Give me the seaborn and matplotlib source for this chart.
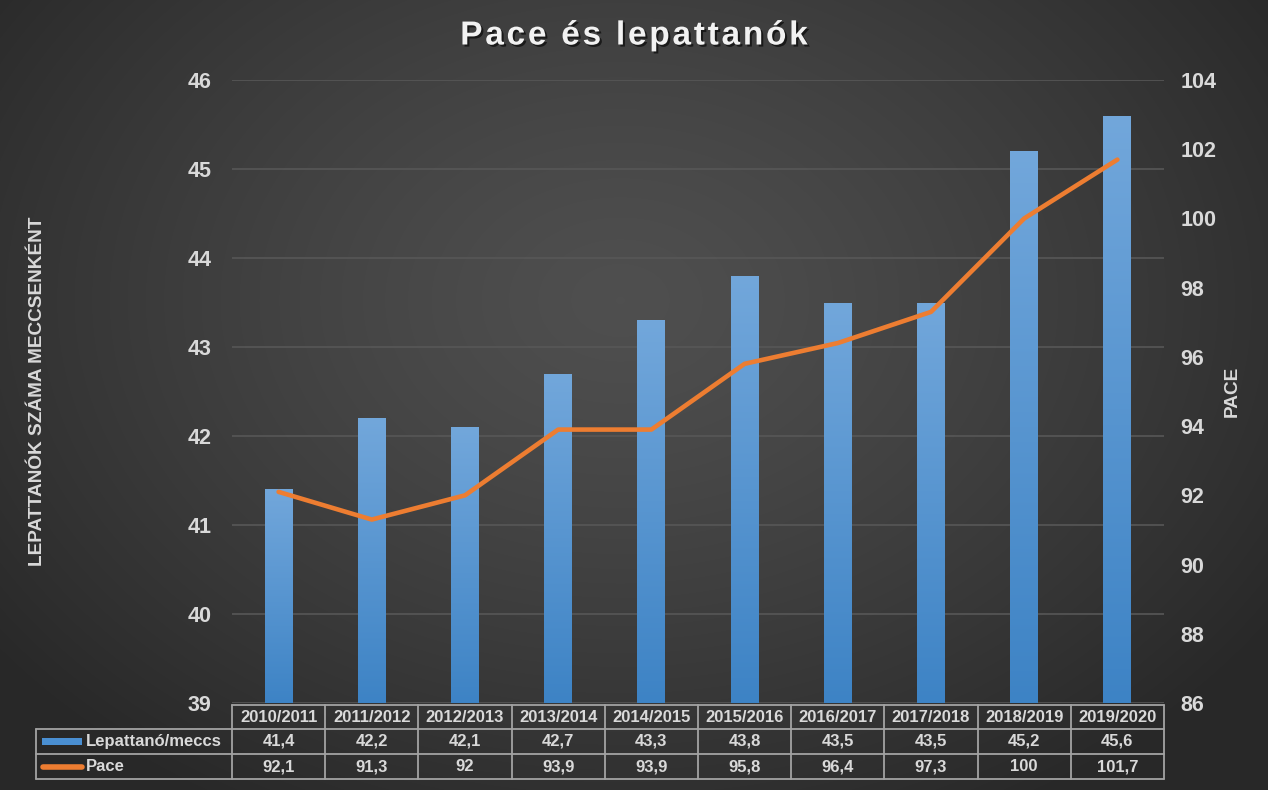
import numpy as np
import pandas as pd
import matplotlib
matplotlib.use("Agg")
import matplotlib.pyplot as plt
import seaborn as sns
from matplotlib.transforms import blended_transform_factory
from matplotlib.lines import Line2D
from matplotlib.patches import Rectangle
import matplotlib.patheffects as pe
from matplotlib.colors import LinearSegmentedColormap

# ---------------- data ----------------
seasons = ["2010/2011", "2011/2012", "2012/2013", "2013/2014", "2014/2015",
           "2015/2016", "2016/2017", "2017/2018", "2018/2019", "2019/2020"]
rebounds = [41.4, 42.2, 42.1, 42.7, 43.3, 43.8, 43.5, 43.5, 45.2, 45.6]
pace = [92.1, 91.3, 92.0, 93.9, 93.9, 95.8, 96.4, 97.3, 100.0, 101.7]
rebound_labels = ["41,4", "42,2", "42,1", "42,7", "43,3", "43,8", "43,5", "43,5", "45,2", "45,6"]
pace_labels = ["92,1", "91,3", "92", "93,9", "93,9", "95,8", "96,4", "97,3", "100", "101,7"]
left_ticks = list(range(39, 47))
right_ticks = list(range(86, 105, 2))
series_names = ["Lepattanó/meccs", "Pace"]
title = "Pace és lepattanók"
left_label = "LEPATTANÓK SZÁMA MECCSENKÉNT"
right_label = "PACE"

df = pd.DataFrame({"season": seasons, "rebounds": rebounds, "pace": pace})

# ---------------- style ----------------
sns.set_theme(style="dark")
plt.rcParams['font.family'] = ['Liberation Sans', 'DejaVu Sans']
plt.rcParams['font.weight'] = 'bold'
TXT = "#d9d9d9"
BLUE_TOP = "#72a7db"
BLUE_BOT = "#3d83c5"
ORANGE = "#ed7d31"
GRID = "#575757"
BORDER = "#a3a3a3"

W, H = 1268, 790
fig = plt.figure(figsize=(W / 100, H / 100), dpi=100)

# background radial gradient
bg = fig.add_axes([0, 0, 1, 1], zorder=-10)
yy, xx = np.mgrid[0:H, 0:W]
r = np.sqrt(((xx - 620) / 780.0) ** 2 + ((yy - 300) / 580.0) ** 2)
r = np.clip(r, 0, 1)
c0, c1 = 0.31, 0.16
val = c0 + (c1 - c0) * r ** 1.3
bg.imshow(np.dstack([val, val, val]), extent=[0, 1, 0, 1], aspect='auto', origin='upper')
bg.set_axis_off()

# main axes
L, R, T, B = 232, 1164, 80, 703
ax = fig.add_axes([L / W, 1 - B / H, (R - L) / W, (B - T) / H])
ax.set_facecolor("none")

sns.barplot(data=df, x="season", y="rebounds", order=seasons, ax=ax,
            width=0.3, color=BLUE_BOT, saturation=1, linewidth=0, edgecolor='none', zorder=3)
ax.set_ylim(39, 46)
ax.set_xlim(-0.5, len(seasons) - 0.5)

# gradient fill for bars
cmap = LinearSegmentedColormap.from_list("bl", [BLUE_BOT, BLUE_TOP])
grad = np.linspace(0, 1, 256).reshape(-1, 1)
for p in list(ax.patches):
    x0 = p.get_x()
    x1 = x0 + p.get_width()
    top = p.get_y() + p.get_height()
    im = ax.imshow(grad, extent=[x0, x1, 39, top], origin='lower', aspect='auto',
                   cmap=cmap, zorder=4)
    im.set_clip_path(p)
ax.set_ylim(39, 46)
ax.set_xlim(-0.5, len(seasons) - 0.5)

ax.set_yticks(left_ticks)
ax.set_yticklabels([str(t) for t in left_ticks])
ax.set_xticks(range(len(seasons)))
ax.set_xticklabels([])
ax.tick_params(axis='y', length=0, pad=15, labelsize=15.5, labelcolor=TXT)
ax.tick_params(axis='x', length=0)
for lab in ax.get_yticklabels():
    lab.set_fontweight('bold')
ax.set_xlabel("")
ax.set_ylabel("")
ax.grid(axis='y', color=GRID, lw=1.2, zorder=0)
ax.grid(axis='x', visible=False)
for s in ax.spines.values():
    s.set_visible(False)

ax2 = ax.twinx()
ax2.set_facecolor("none")
sns.lineplot(x=np.arange(len(seasons)), y=pace, ax=ax2, color=ORANGE, lw=3.3)
for ln in ax2.lines:
    ln.set_solid_joinstyle('round')
    ln.set_solid_capstyle('round')
ax2.set_ylim(86, 104)
ax2.set_yticks(right_ticks)
ax2.set_yticklabels([str(t) for t in right_ticks])
ax2.tick_params(axis='y', length=0, pad=12, labelsize=15.5, labelcolor=TXT)
for lab in ax2.get_yticklabels():
    lab.set_fontweight('bold')
ax2.grid(False)
ax2.set_ylabel("")
for s in ax2.spines.values():
    s.set_visible(False)
ax2.set_xlim(-0.5, len(seasons) - 0.5)

# ---------------- data table ----------------
tr = blended_transform_factory(ax.transData, fig.transFigure)
n = len(seasons)
def fy(py):
    return 1 - py / H
px_per_cat = (R - L) / n
def fx(px):
    return -0.5 + (px - L) / px_per_cat

y_head_top, y_r1, y_r2, y_bot = 705, 729, 754, 779
x_left = fx(36)
kw = dict(color=BORDER, lw=1.3, transform=tr, clip_on=False, zorder=10)
ax.add_line(Line2D([-0.5, n - 0.5], [fy(y_head_top)] * 2, **kw))
for yv in (y_r1, y_r2, y_bot):
    ax.add_line(Line2D([x_left, n - 0.5], [fy(yv)] * 2, **kw))
for k in range(n + 1):
    ax.add_line(Line2D([k - 0.5, k - 0.5], [fy(y_head_top), fy(y_bot)], **kw))
ax.add_line(Line2D([x_left, x_left], [fy(y_r1), fy(y_bot)], **kw))

tkw = dict(color=TXT, fontsize=12, fontweight='bold', ha='center', va='center',
           transform=tr, clip_on=False, zorder=11)
for i in range(n):
    ax.text(i, fy((y_head_top + y_r1) / 2), seasons[i], **tkw)
    ax.text(i, fy((y_r1 + y_r2) / 2), rebound_labels[i], **tkw)
    ax.text(i, fy((y_r2 + y_bot) / 2), pace_labels[i], **tkw)

ax.add_patch(Rectangle((fx(42), fy((y_r1 + y_r2) / 2 + 3.5)), fx(82) - fx(42), 7 / H,
                       transform=tr, clip_on=False, facecolor="#4a8fd2", edgecolor='none', zorder=11))
ax.add_line(Line2D([fx(43), fx(82)], [fy((y_r2 + y_bot) / 2)] * 2, color=ORANGE, lw=4,
                   solid_capstyle='round', transform=tr, clip_on=False, zorder=11))
lkw = dict(tkw)
lkw['ha'] = 'left'
ax.text(fx(86), fy((y_r1 + y_r2) / 2), series_names[0], **lkw)
ax.text(fx(86), fy((y_r2 + y_bot) / 2), series_names[1], **lkw)

# ---------------- titles ----------------
spaced_title = "\u200a".join(title)
fig.text(0.5, 1 - 36 / H, spaced_title, ha='center', va='center', fontsize=24, fontweight='bold',
         color="#f2f2f2",
         path_effects=[pe.SimplePatchShadow(offset=(1.5, -1.5), shadow_rgbFace='black', alpha=0.6),
                       pe.Normal()])
fig.text(38 / W, 1 - 391 / H, left_label, rotation=90, ha='center', va='center',
         fontsize=13.7, fontweight='bold', color=TXT)
fig.text(1232 / W, 1 - 391 / H, right_label, rotation=90, ha='center', va='center',
         fontsize=13.7, fontweight='bold', color=TXT)

fig.savefig("out.png", dpi=100)
